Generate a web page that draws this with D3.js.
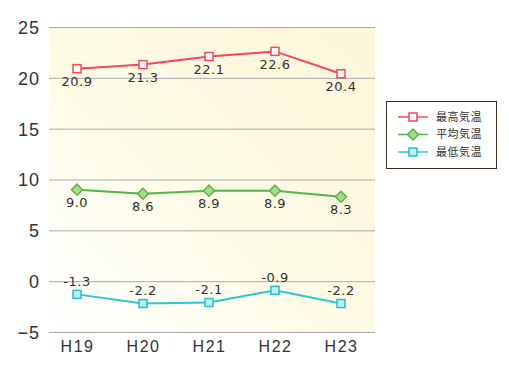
<!DOCTYPE html>
<html>
<head>
<meta charset="utf-8">
<style>
  body { margin: 0; background: #fff; }
  svg { display: block; font-family: "DejaVu Sans", sans-serif; }
  .grid line { stroke: #aaa; stroke-width: 1px; }
  .tick text { fill: #333; }
</style>
</head>
<body>
<svg width="509" height="374"></svg>
<script src="https://cdn.jsdelivr.net/npm/d3@7"></script>
<script>
var years = ['H19', 'H20', 'H21', 'H22', 'H23'];
var maxTemp = [20.9, 21.3, 22.1, 22.6, 20.4];
var avgTemp = [9.0, 8.6, 8.9, 8.9, 8.3];
var minTemp = [-1.3, -2.2, -2.1, -0.9, -2.2];
var yTicks = [-5, 0, 5, 10, 15, 20, 25];

var series = [
  { name: '最高気温', values: maxTemp, line: '#f6465e', fill: '#fff', stroke: '#f6465e', shape: 'square', labelPos: 'below' },
  { name: '平均気温', values: avgTemp, line: '#4db848', fill: '#a6dc88', stroke: '#5ab24a', shape: 'diamond', labelPos: 'below' },
  { name: '最低気温', values: minTemp, line: '#2cc6cc', fill: '#bdeef2', stroke: '#26c0c8', shape: 'square', labelPos: 'above' }
];

var svg = d3.select('svg');
var plot = { left: 49, right: 375, top: 27, bottom: 332 };

var x = d3.scalePoint().domain(years).range([77, 341]);
var y = d3.scaleLinear().domain([-5, 25]).range([plot.bottom, plot.top]);

// background gradient
var defs = svg.append('defs');
var grad = defs.append('linearGradient')
  .attr('id', 'bg')
  .attr('x1', '0%').attr('y1', '100%')
  .attr('x2', '100%').attr('y2', '0%');
grad.append('stop').attr('offset', '0%').attr('stop-color', '#ffffff');
grad.append('stop').attr('offset', '45%').attr('stop-color', '#fefbe6');
grad.append('stop').attr('offset', '100%').attr('stop-color', '#fcf6d8');

svg.append('rect')
  .attr('x', plot.left).attr('y', plot.top)
  .attr('width', plot.right - plot.left)
  .attr('height', plot.bottom - plot.top)
  .attr('fill', 'url(#bg)');

// grid lines
svg.append('g')
  .attr('class', 'grid')
  .selectAll('line')
  .data(yTicks)
  .enter()
  .append('line')
  .attr('x1', plot.left).attr('x2', plot.right)
  .attr('y1', function(d) { return y(d) + 0.5; })
  .attr('y2', function(d) { return y(d) + 0.5; });

// y axis labels
var yAxis = d3.axisLeft(y).tickValues(yTicks).tickSize(0).tickPadding(9);
svg.append('g')
  .attr('transform', 'translate(' + plot.left + ',0)')
  .call(yAxis)
  .call(function(g) { g.select('.domain').remove(); })
  .selectAll('text')
  .style('font-size', '18px')
  .style('font-weight', '300')
  .style('letter-spacing', '1px')
  .attr('dy', '0.36em');

// x axis labels
var xAxis = d3.axisBottom(x).tickSize(0).tickPadding(9);
svg.append('g')
  .attr('transform', 'translate(0,' + plot.bottom + ')')
  .call(xAxis)
  .call(function(g) { g.select('.domain').remove(); })
  .selectAll('text')
  .style('font-size', '16px')
  .style('letter-spacing', '1.5px')
  .attr('dy', '0.71em');

function drawMarker(g, s, cx, cy) {
  if (s.shape === 'diamond') {
    g.append('path')
      .attr('d', 'M' + cx + ',' + (cy - 5.5) + 'L' + (cx + 5.5) + ',' + cy +
                 'L' + cx + ',' + (cy + 5.5) + 'L' + (cx - 5.5) + ',' + cy + 'Z')
      .attr('fill', s.fill).attr('stroke', s.stroke).attr('stroke-width', 1.5);
  } else {
    g.append('rect')
      .attr('x', cx - 4).attr('y', cy - 4)
      .attr('width', 8).attr('height', 8)
      .attr('fill', s.fill).attr('stroke', s.stroke).attr('stroke-width', 1.5);
  }
}

var line = d3.line()
  .x(function(d, i) { return x(years[i]); })
  .y(function(d) { return y(d); });

series.forEach(function(s) {
  var g = svg.append('g');
  g.append('path')
    .datum(s.values)
    .attr('d', line)
    .attr('fill', 'none')
    .attr('stroke', s.line)
    .attr('stroke-width', 2);

  s.values.forEach(function(v, i) {
    drawMarker(g, s, x(years[i]), y(v));
  });

  g.selectAll('text')
    .data(s.values)
    .enter()
    .append('text')
    .attr('x', function(d, i) { return x(years[i]); })
    .attr('y', function(d) { return y(d) + (s.labelPos === 'below' ? 13 : -13); })
    .attr('dy', '0.36em')
    .attr('text-anchor', 'middle')
    .attr('fill', '#333')
    .style('font-size', '13px')
    .style('letter-spacing', '0.5px')
    .text(function(d) { return d.toFixed(1); });
});

// legend
var legend = svg.append('g').attr('transform', 'translate(386,101)');
legend.append('rect')
  .attr('x', 0.5).attr('y', 0.5)
  .attr('width', 110).attr('height', 67)
  .attr('fill', '#fff')
  .attr('stroke', '#3b2a1c');

series.forEach(function(s, i) {
  var row = legend.append('g').attr('transform', 'translate(0,' + (16 + i * 17.5) + ')');
  row.append('line')
    .attr('x1', 12).attr('x2', 42)
    .attr('y1', 0).attr('y2', 0)
    .attr('stroke', s.line).attr('stroke-width', 1.5);
  drawMarker(row, s, 27, 0);
  row.append('text')
    .attr('x', 50).attr('y', 0).attr('dy', '0.36em')
    .attr('fill', '#333')
    .style('font-family', '"Noto Sans CJK JP", sans-serif')
    .style('font-size', '11px')
    .style('letter-spacing', '0.5px')
    .text(s.name);
});
</script>
</body>
</html>
